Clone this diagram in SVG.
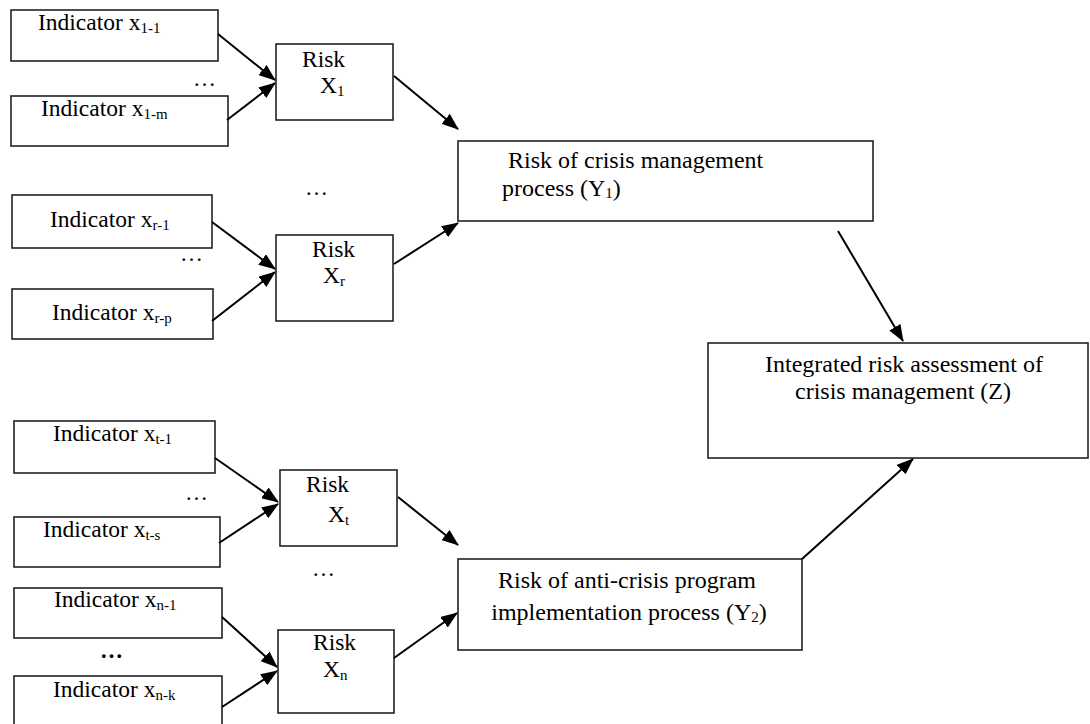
<svg xmlns="http://www.w3.org/2000/svg" width="1090" height="724" viewBox="0 0 1090 724">
<style>
.box{fill:#fff;stroke:#222;stroke-width:1.6}
.t{font-family:"Liberation Serif","Times New Roman",serif;font-size:23.5px;fill:#000}
.b{font-size:24px}
.s{font-size:15px}
.conn line{stroke:#000;stroke-width:2;marker-end:url(#ah)}
.dots{font-family:"Liberation Serif",serif;font-size:23px;fill:#000}
</style>
<defs>
<marker id="ah" markerUnits="userSpaceOnUse" markerWidth="17" markerHeight="13" refX="16" refY="6.5" orient="auto">
<path d="M0,0 L17,6.5 L0,13 z" fill="#000"/>
</marker>
</defs>
<rect width="1090" height="724" fill="#fff"/>

<g id="ind-1-1"><rect class="box" x="11" y="10" width="207" height="51"/><text class="t" x="38" y="30">Indicator x<tspan class="s" dy="3">1-1</tspan></text></g>
<g id="ind-1-m"><rect class="box" x="11" y="96" width="217" height="50"/><text class="t" x="41" y="116">Indicator x<tspan class="s" dy="3">1-m</tspan></text></g>
<g id="risk-x1"><rect class="box" x="276" y="44" width="117" height="76"/><text class="t" x="302" y="67">Risk</text><text class="t" x="320" y="93">X<tspan class="s" dy="3">1</tspan></text></g>

<g id="ind-r-1"><rect class="box" x="12" y="195" width="200" height="53"/><text class="t" x="50" y="227">Indicator x<tspan class="s" dy="3">r-1</tspan></text></g>
<g id="ind-r-p"><rect class="box" x="12" y="289" width="201" height="50"/><text class="t" x="52" y="320">Indicator x<tspan class="s" dy="3">r-p</tspan></text></g>
<g id="risk-xr"><rect class="box" x="276" y="235" width="117" height="86"/><text class="t" x="312" y="257">Risk</text><text class="t" x="323" y="283">X<tspan class="s" dy="3">r</tspan></text></g>

<g id="y1"><rect class="box" x="458" y="141" width="415" height="80"/><text class="t b" x="508" y="168">Risk of crisis management</text><text class="t b" x="502" y="196">process (Y<tspan class="s" dy="2">1</tspan><tspan dy="-2">)</tspan></text></g>

<g id="z"><rect class="box" x="708" y="343" width="380" height="115"/><text class="t b" x="904" y="372" text-anchor="middle">Integrated risk assessment of</text><text class="t b" x="903" y="399" text-anchor="middle">crisis management (Z)</text></g>

<g id="ind-t-1"><rect class="box" x="14" y="421" width="201" height="52"/><text class="t" x="53" y="441">Indicator x<tspan class="s" dy="3">t-1</tspan></text></g>
<g id="ind-t-s"><rect class="box" x="14" y="517" width="206" height="50"/><text class="t" x="43" y="537">Indicator x<tspan class="s" dy="3">t-s</tspan></text></g>
<g id="risk-xt"><rect class="box" x="280" y="470" width="117" height="76"/><text class="t" x="306" y="492">Risk</text><text class="t" x="328" y="522">X<tspan class="s" dy="3">t</tspan></text></g>

<g id="ind-n-1"><rect class="box" x="14" y="588" width="208" height="50"/><text class="t" x="54" y="607">Indicator x<tspan class="s" dy="3">n-1</tspan></text></g>
<g id="ind-n-k"><rect class="box" x="14" y="676" width="208" height="60"/><text class="t" x="53" y="697">Indicator x<tspan class="s" dy="3">n-k</tspan></text></g>
<g id="risk-xn"><rect class="box" x="278" y="630" width="116" height="83"/><text class="t" x="313" y="650">Risk</text><text class="t" x="323" y="677">X<tspan class="s" dy="3">n</tspan></text></g>

<g id="y2"><rect class="box" x="458" y="559" width="344" height="91"/><text class="t b" x="627" y="588" text-anchor="middle">Risk of anti-crisis program</text><text class="t b" x="629" y="620" text-anchor="middle">implementation process (Y<tspan class="s" dy="2">2</tspan><tspan dy="-2">)</tspan></text></g>

<g id="ellipses">
<text class="dots" x="193" y="86">…</text>
<text class="dots" x="305" y="195">…</text>
<text class="dots" x="180" y="261">…</text>
<text class="dots" x="185" y="500">…</text>
<text class="dots" x="312" y="576">…</text>
<text class="dots" x="100" y="658" font-weight="bold" font-size="18">…</text>
</g>

<g id="connectors" class="conn">
<line x1="218" y1="34" x2="275" y2="80"/>
<line x1="227" y1="120" x2="275" y2="83"/>
<line x1="394" y1="76" x2="458" y2="129"/>
<line x1="212" y1="222" x2="275" y2="269"/>
<line x1="212" y1="321" x2="275" y2="272"/>
<line x1="394" y1="264" x2="458" y2="223"/>
<line x1="838" y1="231" x2="903" y2="341"/>
<line x1="215" y1="458" x2="278" y2="502"/>
<line x1="219" y1="543" x2="278" y2="504"/>
<line x1="398" y1="497" x2="458" y2="545"/>
<line x1="222" y1="617" x2="277" y2="667"/>
<line x1="222" y1="707" x2="277" y2="671"/>
<line x1="394" y1="658" x2="457" y2="613"/>
<line x1="802" y1="559" x2="913" y2="459"/>
</g>
</svg>
